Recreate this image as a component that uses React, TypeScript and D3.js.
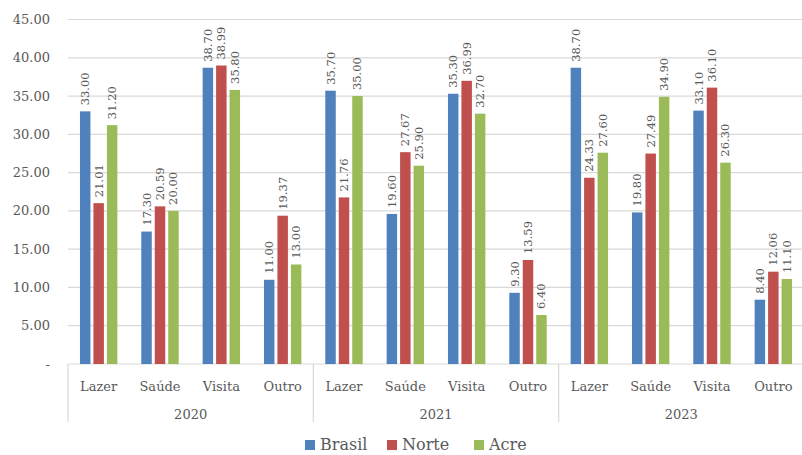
import React from "react";
import * as d3 from "d3";

const years = ["2020", "2021", "2023"];
const categories = ["Lazer", "Saúde", "Visita", "Outro"];
const seriesNames = ["Brasil", "Norte", "Acre"];
const seriesColors = ["#4F81BD", "#C0504D", "#9BBB59"];
// values[yearIndex][categoryIndex]
const brasil = [
  [33.0, 17.3, 38.7, 11.0],
  [35.7, 19.6, 35.3, 9.3],
  [38.7, 19.8, 33.1, 8.4],
];
const norte = [
  [21.01, 20.59, 38.99, 19.37],
  [21.76, 27.67, 36.99, 13.59],
  [24.33, 27.49, 36.1, 12.06],
];
const acre = [
  [31.2, 20.0, 35.8, 13.0],
  [35.0, 25.9, 32.7, 6.4],
  [27.6, 34.9, 26.3, 11.1],
];
const yTicks = [0, 5, 10, 15, 20, 25, 30, 35, 40, 45];

const W = 802;
const H = 455;
const left = 68;
const right = 804;
const top = 19.5;
const bottom = 364;
const font = "'DejaVu Serif', serif";
const textColor = "#595959";

export default function App() {
  const seriesData = [brasil, norte, acre];
  const y = d3.scaleLinear().domain([0, 45]).range([bottom, top]);
  const keys: string[] = [];
  years.forEach((yr) => categories.forEach((c) => keys.push(yr + "|" + c)));
  const x = d3.scaleBand<string>().domain(keys).range([left, right]).paddingInner(0).paddingOuter(0);
  const xYear = d3.scaleBand<string>().domain(years).range([left, right]);
  const inner = d3
    .scaleBand<string>()
    .domain(seriesNames)
    .range([0, x.bandwidth()])
    .paddingInner(0.222)
    .paddingOuter(0.889);

  const fmt = d3.format(".2f");

  const legendItems = [
    { name: "Brasil", x: 305 },
    { name: "Norte", x: 387 },
    { name: "Acre", x: 474 },
  ];

  return (
    <svg
      width={W}
      height={H}
      style={{ position: "absolute", left: 0, top: 0, background: "#fff" }}
      fontFamily={font}
    >
      <rect x={0} y={0} width={W} height={H} fill="#fff" />
      {yTicks.map((t) => (
        <g key={t}>
          {t > 0 && (
            <line x1={left} x2={right} y1={y(t)} y2={y(t)} stroke="#D9D9D9" strokeWidth={1.2} />
          )}
          <text
            x={50}
            y={y(t)}
            dy="0.35em"
            textAnchor="end"
            fontSize={13}
            fill={textColor}
          >
            {t === 0 ? "-" : fmt(t)}
          </text>
        </g>
      ))}
      <line x1={left} x2={right} y1={bottom} y2={bottom} stroke="#D9D9D9" strokeWidth={1.2} />
      {years.map((yr) => xYear(yr)!).map((xx, i) => (
        <line key={i} x1={xx} x2={xx} y1={bottom} y2={422} stroke="#D9D9D9" strokeWidth={1.2} />
      ))}
      {years.map((yr, yi) =>
        categories.map((c, ci) => {
          const k = yr + "|" + c;
          const x0 = x(k)!;
          return (
            <g key={k}>
              {seriesNames.map((s, si) => {
                const v = seriesData[si][yi][ci];
                const bx = x0 + inner(s)!;
                const bw = inner.bandwidth();
                const lx = bx + bw / 2;
                const ly = y(v) - 6;
                return (
                  <g key={s}>
                    <rect x={bx} y={y(v)} width={bw} height={bottom - y(v)} fill={seriesColors[si]} />
                    <text
                      transform={`translate(${lx},${ly}) rotate(-90)`}
                      dy="0.35em"
                      textAnchor="start"
                      fontSize={11.5}
                      fill={textColor}
                    >
                      {fmt(v)}
                    </text>
                  </g>
                );
              })}
              <text
                x={x0 + x.bandwidth() / 2}
                y={391}
                textAnchor="middle"
                fontSize={13}
                fill={textColor}
              >
                {c}
              </text>
            </g>
          );
        })
      )}
      {years.map((yr) => (
        <text
          key={yr}
          x={xYear(yr)! + xYear.bandwidth() / 2}
          y={419}
          textAnchor="middle"
          fontSize={13}
          fill={textColor}
        >
          {yr}
        </text>
      ))}
      {legendItems.map((it, i) => (
        <g key={it.name}>
          <rect x={it.x} y={440} width={10} height={10} fill={seriesColors[i]} />
          <text x={it.x + 15} y={450} fontSize={16} fill={textColor}>
            {it.name}
          </text>
        </g>
      ))}
    </svg>
  );
}
